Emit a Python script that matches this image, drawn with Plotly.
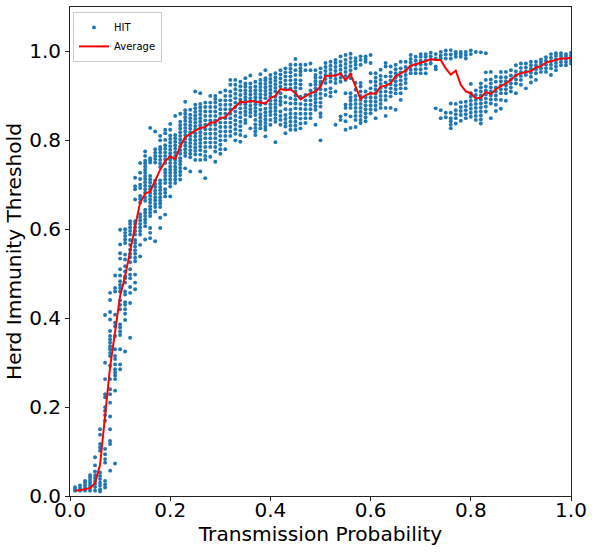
import plotly.graph_objects as go

transmission_probability = [k / 100 for k in range(1, 101)]

# HIT readings per transmission probability column, in thousandths
hit_by_column = [
 [12,16,20],[12,18,24],[12,18,24,30,34],[12,18,24,30,36,42,47],[12,20,27,33,40,47,55,69,87],
 [10,15,23,30,38,45,53,102,109,117,138,150],
 [19,26,34,75,83,94,106,169,182,192,200,222,229,263,300,407],
 [57,117,124,150,179,210,229,240,263,293,315,322,330,337,345,352,360,371,397,414,441,457],
 [73,237,263,271,278,285,296,308,315,330,360,382,390,408,460,468,496],
 [285,296,330,362,370,379,386,420,430,440,460,468,475,483,496,510,534,546,566,599],
 [325,396,410,420,430,436,453,460,480,490,494,505,517,532,543,569,577,585,592,600],
 [356,434,457,470,490,498,510,526,537,545,554,565,576,588,596,604,612,618],
 [465,480,498,528,536,545,553,561,569,576,588,596,604,612,618,667,690,697,716],
 [539,565,588,596,604,612,620,627,634,660,668,675,693,700,713,727,749],
 [577,607,615,622,630,637,644,664,672,682,690,698,706,713,720,727,734,741,748,754,765,775],
 [580,592,603,630,637,645,652,660,667,675,682,690,697,705,712,720,750,755,760,828],
 [573,640,650,657,665,672,680,687,695,702,710,750,758,765,772,780,820],
 [603,626,650,658,665,672,680,688,695,703,710,740,748,756,764,772,780,785,800,810],
 [633,674,682,690,704,712,720,727,734,749,757,765,773,781,789,801,816,824],
 [674,696,704,712,720,727,734,741,749,757,764,771,779,787,795,803,811,824,837],
 [704,712,720,727,734,741,749,757,765,773,781,789,797,805,812,855],
 [712,722,730,738,746,753,760,770,778,786,794,802,810,818,826,834,842,860],
 [737,765,772,780,788,796,804,812,820,828,836,844,852,860,868,887],
 [730,762,770,778,786,794,802,810,818,826,834,842,850,858,869],
 [756,768,776,784,792,800,808,816,824,832,840,848,856,864,872,880,910],
 [730,756,768,778,786,794,802,810,818,826,834,842,850,858,866,874,882,906],
 [715,757,765,775,785,795,805,815,825,835,845,855,865,875,885],
 [763,785,795,805,815,825,835,845,855,865,875,885,900],
 [752,775,785,795,805,815,825,835,845,855,865,875,885,893,900],
 [770,780,790,800,810,820,830,840,850,860,870,880,890,908],
 [780,800,810,820,830,840,850,860,870,880,890,900,912],
 [810,820,830,840,850,860,870,880,890,900,910,925,936],
 [800,815,825,835,845,855,865,875,885,895,905,915,925,936],
 [797,812,822,832,842,852,862,872,882,892,902,912,922,932],
 [809,839,846,857,865,873,881,889,897,905,913,921,928,940],
 [827,854,862,870,878,887,895,903,911,919,928,946],
 [812,820,828,836,846,857,865,873,881,889,897,905,913,921,932],
 [827,835,843,851,859,869,880,888,896,904,912,920,928,936,949],
 [809,824,831,839,847,855,863,871,883,895,903,911,919,927,935,940,958],
 [835,846,857,865,873,881,889,898,906,914,922,930,938,947],
 [796,842,850,858,866,874,882,890,898,910,918,926,934,942,951],
 [835,846,855,865,880,888,896,906,921,930,939,948,958],
 [816,831,839,848,857,870,885,898,917,926,935,944,953,962],
 [824,833,842,851,860,869,883,895,917,926,935,944,953,961,970],
 [824,833,842,851,860,872,883,892,901,910,919,928,936,947,958,970,983],
 [827,838,849,860,871,882,898,917,926,935,947,955,962,970],
 [839,850,860,870,880,890,902,958,970],
 [850,860,870,880,890,900,912,925,958,973],
 [835,869,877,885,893,901,909,917,925,933,941,947,958],
 [800,853,861,876,885,895,905,915,925,932,942,952,962],
 [902,914,929,938,947,956,965,974],
 [899,908,917,932,941,950,959,968,977],
 [835,910,929,938,947,956,965,974,981],
 [846,854,932,941,950,959,968,977,989],
 [824,843,858,873,880,906,936,945,954,963,972,981,992],
 [828,854,873,881,889,897,906,940,949,958,967,976,985,995],
 [830,846,855,864,873,882,891,900,914,929,962,970,978,985],
 [839,846,855,864,873,882,891,900,910,921,929,970,981,989],
 [843,852,861,870,879,888,897,910,977,983,989],
 [861,870,879,888,897,906,917,932,951,974,992],
 [850,869,878,887,896,905,914,923,932,941,951],
 [873,882,891,900,909,918,927,936,945,959],
 [855,873,891,900,910,920,930,944,966,974],
 [873,899,908,917,926,935,944,953,966],
 [869,906,915,924,933,942,951,960,970],
 [891,906,917,926,935,944,953,962,977],
 [917,929,938,947,956,965,977],
 [951,959,967,975,983,992],
 [951,960,970,979,988],
 [951,960,970,979,988,994],
 [951,962,971,980,988,994],
 [973,981,989,997],
 [872,960,966,984,994],
 [850,868,984,991,999],
 [852,862,984,993,1002],
 [827,835,843,850,862,883,984,993,1003],
 [838,850,859,868,882,988,994,999],
 [844,857,866,875,886,988,994,999],
 [850,859,868,877,887,984,992,999],
 [853,862,871,880,889,898,906,927,994,1002],
 [846,855,864,873,882,891,902,912,999],
 [838,847,856,865,874,883,892,901,910,919,928,998],
 [865,876,885,894,903,912,921,936,953,996],
 [850,883,892,901,910,919,928,937,954],
 [866,880,892,901,910,919,932,943],
 [871,891,906,915,924,933,942,954],
 [889,906,915,924,933,942,954],
 [910,919,928,937,946,958],
 [906,928,937,946,955,969],
 [925,936,945,954,963,973],
 [917,947,955,964,973],
 [930,943,952,961,969,977],
 [936,951,960,969,977],
 [954,962,970,976,982],
 [954,962,970,979,987],
 [947,962,970,978,986,994],
 [958,966,974,982,990,996],
 [969,976,983,990,996],
 [969,976,983,990,994],
 [973,979,985,991,997],
]

average_hit = [
 .012,.013,.015,.018,.029,.07,.185,.29,.37,.45,.494,.554,.607,.66,.68,.685,.711,.734,.753,.764,
 .758,.787,.807,.815,.822,.828,.83,.84,.84,.85,.852,.865,.876,.887,.885,.889,.887,.885,.883,.895,
 .9,.916,.913,.915,.906,.892,.9,.906,.91,.921,.945,.946,.946,.95,.936,.949,.921,.893,.902,.906,
 .905,.921,.923,.929,.944,.95,.957,.968,.971,.975,.978,.983,.981,.981,.962,.948,.957,.925,.91,.906,
 .895,.896,.909,.904,.915,.922,.928,.936,.947,.951,.953,.956,.964,.967,.975,.978,.981,.984,.984,.986,
]

tick_values = [0.0, 0.2, 0.4, 0.6, 0.8, 1.0]
tick_labels = ["0.0", "0.2", "0.4", "0.6", "0.8", "1.0"]

scatter_x = [p for p, col in zip(transmission_probability, hit_by_column) for _ in col]
scatter_y = [v / 1000 for col in hit_by_column for v in col]

fig = go.Figure()
fig.add_trace(go.Scatter(x=scatter_x, y=scatter_y, mode="markers", name="HIT",
                         marker=dict(color="#1f77b4", size=3.9, line=dict(width=0))))
fig.add_trace(go.Scatter(x=transmission_probability, y=average_hit, mode="lines", name="Average",
                         line=dict(color="#ff0000", width=2)))

axis_common = dict(
    tickmode="array", tickvals=tick_values, ticktext=tick_labels,
    showgrid=False, zeroline=False, showline=True, mirror=True,
    linecolor="#222222", linewidth=1, ticks="outside", ticklen=4, tickwidth=1, tickcolor="#222222",
    tickfont=dict(family="DejaVu Sans", size=20, color="black"),
    automargin=True,
)
fig.update_layout(
    width=594, height=552, autosize=False,
    margin=dict(l=70, r=23, t=7, b=56),
    paper_bgcolor="white", plot_bgcolor="white",
    font=dict(family="DejaVu Sans", color="black"),
    xaxis=dict(range=[0, 1], ticklabelstandoff=-8, title=dict(text="Transmission Probability", standoff=2,
               font=dict(family="DejaVu Sans", size=20.2, color="black")), **axis_common),
    yaxis=dict(range=[0, 1.1], title=dict(text="Herd Immunity Threshold", standoff=2,
               font=dict(family="DejaVu Sans", size=20.2, color="black")), **axis_common),
    legend=dict(x=0.006, y=0.99, xanchor="left", yanchor="top", bgcolor="rgba(255,255,255,0.8)",
                bordercolor="#cccccc", borderwidth=1, font=dict(family="DejaVu Sans", size=10, color="black"),
                itemwidth=30, tracegroupgap=0),
    showlegend=True,
)
# The default page leaves 8 px round the figure; the reference has none.
fig.write_html("out.html", config={"displayModeBar": False},
               post_script="document.body.style.margin='0';document.documentElement.style.overflow='hidden';")
